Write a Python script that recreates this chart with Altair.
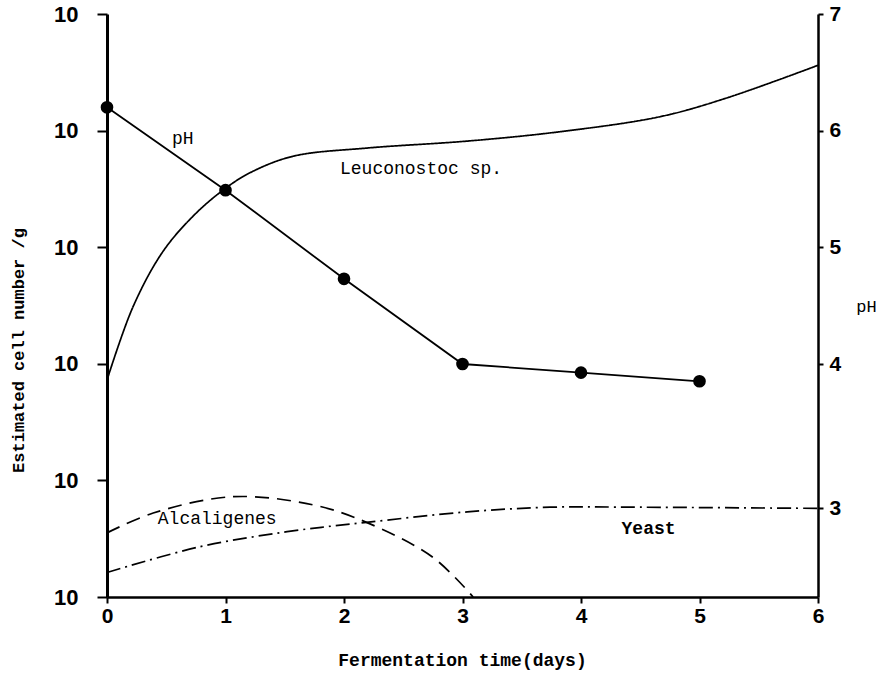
import altair as alt
import pandas as pd

# ---- data ----
# Leuconostoc sp. (log10 units above the lowest axis decade)
leuco_days = [0, 0.22, 0.47, 0.73, 0.98, 1.21, 1.57, 2.19, 3.04, 3.82, 4.67, 5.23, 6.0]
leuco_log = [1.86, 2.49, 2.96, 3.27, 3.49, 3.64, 3.78, 3.85, 3.91, 3.99, 4.12, 4.28, 4.56]

# Alcaligenes
alc_days = [0, 0.39, 1.06, 1.74, 2.19, 2.75, 3.09]
alc_log = [0.55, 0.72, 0.86, 0.79, 0.64, 0.34, 0.0]

# Yeast
yeast_days = [0, 0.78, 1.52, 2.19, 3.04, 3.74, 4.5, 6.0]
yeast_log = [0.21, 0.43, 0.56, 0.64, 0.73, 0.77, 0.77, 0.76]

# pH
ph_days = [0, 1, 2, 3, 4, 5]
ph_values = [6.20, 5.49, 4.73, 4.00, 3.94, 3.88]

# axis ticks / labels
x_ticks = [0, 1, 2, 3, 4, 5, 6]
left_ticks = [0, 1, 2, 3, 4, 5]
ph_ticks = [3, 4, 5, 6, 7]

# in-plot labels
label_text = ["pH", "Leuconostoc sp.", "Alcaligenes", "Yeast"]
label_days = [0.64, 2.65, 0.93, 4.57]
label_log = [3.93, 3.67, 0.67, 0.58]
label_weight = ["normal", "normal", "normal", "bold"]

W, H = 711, 583

curves = pd.DataFrame({
    "day": leuco_days + alc_days + yeast_days,
    "log": leuco_log + alc_log + yeast_log,
    "series": ["Leuconostoc"] * len(leuco_days) + ["Alcaligenes"] * len(alc_days)
              + ["Yeast"] * len(yeast_days),
})
ph_df = pd.DataFrame({"day": ph_days, "ph": ph_values})
lab_df = pd.DataFrame({"text": label_text, "day": label_days, "log": label_log,
                       "weight": label_weight})

xscale = alt.Scale(domain=[0, 6], nice=False, zero=False)
xaxis = alt.Axis(
    values=x_ticks, format="d", title="Fermentation time(days)",
    titleFont="Liberation Mono", titleFontSize=18,
    titleX=355, titleY=63, titleBaseline="middle", titleAlign="center",
    tickSize=6, labelPadding=2, domainWidth=2.5, tickWidth=2, labelFlush=False,
)
yscale_left = alt.Scale(domain=[0, 5], nice=False, zero=False)
yaxis_left = alt.Axis(
    values=left_ticks, labelExpr="'10'", title="Estimated cell number /g",
    titleFont="Liberation Mono", titleFontSize=17,
    titleX=-89, titleY=336, titleBaseline="middle", titleAlign="center",
    tickSize=10, labelPadding=19, labelFontSize=22, domainWidth=3, tickWidth=2,
    labelFlush=False,
)

ph_bottom = 3 - 89 / 144
yscale_ph = alt.Scale(domain=[ph_bottom, 3, 4, 7], range=[H, 494, 350, 0], nice=False, zero=False)
yaxis_ph = alt.Axis(
    orient="right", values=ph_ticks, format="d", title="pH",
    titleFont="Liberation Mono", titleFontSize=17, titleFontWeight="normal",
    titleAngle=0, titleX=48, titleY=292, titleBaseline="middle", titleAlign="center",
    tickSize=5, labelPadding=6, domainWidth=2.5, tickWidth=2, labelFlush=False,
)

base_curves = alt.Chart(curves).mark_line(
    color="black", strokeWidth=1.7, interpolate="catmull-rom"
).encode(
    x=alt.X("day:Q", scale=xscale, axis=xaxis),
    y=alt.Y("log:Q", scale=yscale_left, axis=yaxis_left),
    detail="series:N",
    strokeDash=alt.StrokeDash(
        "series:N",
        scale=alt.Scale(domain=["Leuconostoc", "Alcaligenes", "Yeast"],
                        range=[[1, 0], [14, 8], [14, 5, 2, 5]]),
        legend=None,
    ),
)

def text_layer(weight):
    return alt.Chart(lab_df).transform_filter(
        alt.datum.weight == weight
    ).mark_text(
        font="Liberation Mono", fontSize=18, fontWeight=weight, color="black",
        align="center", baseline="middle"
    ).encode(
        x=alt.X("day:Q", scale=xscale),
        y=alt.Y("log:Q", scale=yscale_left),
        text="text:N",
    )

left = base_curves + text_layer("normal") + text_layer("bold")

ph_line = alt.Chart(ph_df).mark_line(color="black", strokeWidth=1.8).encode(
    x=alt.X("day:Q", scale=xscale),
    y=alt.Y("ph:Q", scale=yscale_ph, axis=yaxis_ph),
)
ph_pts = alt.Chart(ph_df).mark_circle(color="black", size=160, opacity=1).encode(
    x=alt.X("day:Q", scale=xscale),
    y=alt.Y("ph:Q", scale=yscale_ph),
)
right = ph_line + ph_pts

chart = alt.layer(left, right).resolve_scale(y="independent").properties(
    width=W, height=H,
    autosize=alt.AutoSizeParams(type="none"),
    padding={"left": 107, "top": 14, "right": 77, "bottom": 79},
    background="white",
).configure_view(stroke=None).configure_axis(
    grid=False,
    domainColor="black", tickColor="black",
    labelColor="black", titleColor="black",
    labelFont="Liberation Sans", labelFontSize=21, labelFontWeight="bold",
    titleFontWeight="bold",
)

chart.save("out.html", embed_options={"renderer": "svg", "actions": False})
